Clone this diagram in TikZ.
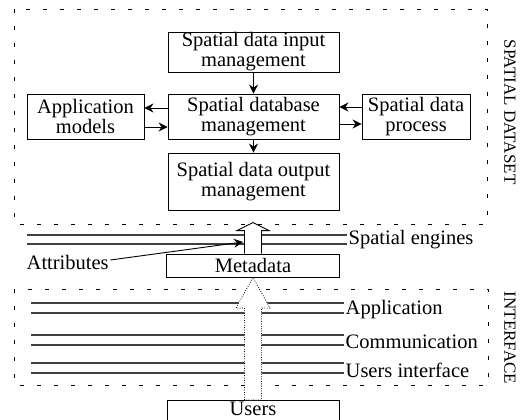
\documentclass[tikz,border=0pt]{standalone}
\usepackage{fontspec}
\setmainfont{Liberation Serif}
\usetikzlibrary{arrows.meta,calc}

\begin{document}
\begin{tikzpicture}[x=1pt,y=-1pt,
  box/.style={draw,line width=0.9pt,align=center,inner sep=0pt,
    font=\fontsize{20.5}{20}\selectfont},
  lbl/.style={font=\fontsize{20.5}{20}\selectfont,inner sep=1.5pt},
  side/.style={font=\fontsize{17}{17}\selectfont,rotate=-90,inner sep=0pt},
  frame/.style={line width=0.8pt,dash pattern=on 4pt off 13pt},
  arr/.style={line width=0.9pt,-{Stealth[length=9pt,width=9pt,inset=3pt]}},
  layer/.style={line width=1.1pt,black!75},
]
\useasboundingbox (0,0) rectangle (531,420);

% dashed frames of the two layers
\draw[frame] (14,9) rectangle (487,224);
\draw[frame] (14,289) rectangle (488,385);
\node[side] (dataset) at (510,112) {SPATIAL DATASET};
\node[side] (iface) at (510,338) {INTERFACE};

% spatial dataset modules
\node[box,minimum width=171pt,minimum height=40pt] (in) at (253.5,52)
  {Spatial data input\\management};
\node[box,minimum width=171pt,minimum height=45pt] (db) at (253.5,116.5)
  {Spatial database\\management};
\node[box,minimum width=117pt,minimum height=45pt] (app) at (85.5,116.5)
  {Application\\models};
\node[box,minimum width=108pt,minimum height=45pt] (proc) at (416,116.5)
  {Spatial data\\process};
\node[box,minimum width=171pt,minimum height=57pt] (out) at (253.5,181.5)
  {Spatial data output\\management};

\draw[arr] (in) -- (db);
\draw[arr] (db) -- (out);
\draw[arr] ([yshift=8.5pt]db.west) -- ([yshift=8.5pt]app.east);
\draw[arr] ([yshift=-10.5pt]app.east) -- ([yshift=-10.5pt]db.west);
\draw[arr] ([yshift=9.5pt]proc.west) -- ([yshift=9.5pt]db.east);
\draw[arr] ([yshift=-7.5pt]db.east) -- ([yshift=-7.5pt]proc.west);

% spatial engines
\node[lbl,anchor=west] (eng) at (347,240) {Spatial engines};
\draw[layer] (27,235) -- (eng.west |- 0,235);
\draw[layer] (27,244) -- (eng.west |- 0,244);

% interface layers
\node[lbl,anchor=west] (appl) at (344,310) {Application};
\node[lbl,anchor=west] (comm) at (344,342) {Communication};
\node[lbl,anchor=west] (ui) at (344,370) {Users interface};
\foreach \n/\a/\b in {appl/303/313,comm/335/345,ui/363/373}{
  \draw[layer] (31,\a) -- (\n.west |- 0,\a);
  \draw[layer] (31,\b) -- (\n.west |- 0,\b);
}

% metadata and users
\node[box,minimum width=173pt,minimum height=23pt] (meta) at (253,265.5) {Metadata};
\begin{scope}
  \clip (0,0) rectangle (531,420);
  \draw[line width=0.9pt] (167,424) -- (167,400) -- (339,400) -- (339,424);
\end{scope}
\node[lbl,inner sep=0pt,minimum width=172pt,minimum height=18pt] (users) at (253,409) {Users};

% hollow arrow from metadata to the engines
\draw[line width=0.9pt,fill=white]
  ($(meta.north)+(-8.5,0)$) -- ($(meta.north)+(-8.5,-23)$)
  -- ($(meta.north)+(-16,-23)$) -- ($(meta.north)+(0,-31)$)
  -- ($(meta.north)+(16,-23)$) -- ($(meta.north)+(8.5,-23)$)
  -- ($(meta.north)+(8.5,0)$);

% dotted hollow arrow from users to metadata
\coordinate (ubase) at (253,400);
\draw[line width=0.8pt,dash pattern=on 0.8pt off 1.6pt,fill=white]
  ($(ubase)+(-8.5,0)$) -- ($(ubase)+(-8.5,-92)$)
  -- ($(ubase)+(-17,-92)$) -- (meta.south)
  -- ($(ubase)+(17,-92)$) -- ($(ubase)+(8.5,-92)$)
  -- ($(ubase)+(8.5,0)$) -- cycle;

% attributes
\node[lbl,anchor=west] (attr) at (25,262) {Attributes};
\coordinate (attrtip) at (243,242);
\draw[arr] ([yshift=2pt]attr.east) -- (attrtip);
\end{tikzpicture}
\end{document}
